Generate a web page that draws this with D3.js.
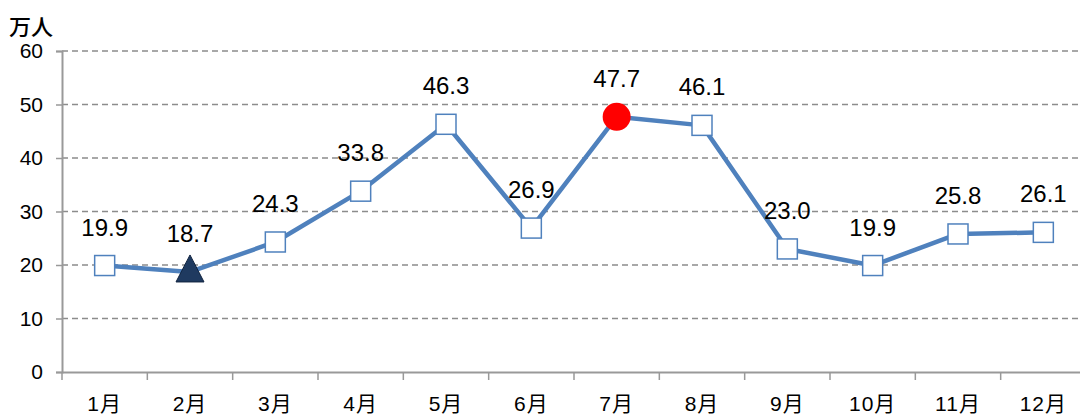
<!DOCTYPE html>
<html>
<head>
<meta charset="utf-8">
<script src="https://d3js.org/d3.v7.min.js"></script>
<style>
  body { margin: 0; background: #fff; }
  text { font-family: "Liberation Sans", "Noto Sans CJK JP", sans-serif; }
</style>
</head>
<body>
<script>
// data
const months = ["1月", "2月", "3月", "4月", "5月", "6月", "7月", "8月", "9月", "10月", "11月", "12月"];
const visitors = [19.9, 18.7, 24.3, 33.8, 46.3, 26.9, 47.7, 46.1, 23.0, 19.9, 25.8, 26.1];
const markerTypes = ["square", "triangle", "square", "square", "square", "square", "circle", "square", "square", "square", "square", "square"];
const yTicks = [0, 10, 20, 30, 40, 50, 60];

const width = 1080, height = 418;
const svg = d3.select("body").append("svg")
    .attr("width", width)
    .attr("height", height);

const x = d3.scaleBand().domain(months).range([62, 1086]);
const y = d3.scaleLinear().domain([0, 60]).range([372, 51]);

// grid lines
svg.append("g").selectAll("line")
    .data(yTicks.filter(d => d > 0))
    .join("line")
    .attr("x1", 62).attr("x2", width)
    .attr("y1", d => y(d)).attr("y2", d => y(d))
    .style("stroke", "#8c8c8c")
    .style("stroke-width", 1.3)
    .style("stroke-dasharray", "6,4");

// y axis
const yAxis = svg.append("g")
    .attr("transform", "translate(62,0)")
    .call(d3.axisLeft(y).tickValues(yTicks).tickSize(6).tickPadding(13));
yAxis.select(".domain").style("stroke", "#999").style("stroke-width", 2);
yAxis.selectAll(".tick line").style("stroke", "#999").style("stroke-width", 1.5);
yAxis.selectAll(".tick text").style("font-size", "21px").style("fill", "#000");

// x axis
const xAxis = svg.append("g")
    .attr("transform", "translate(0,372)")
    .call(d3.axisBottom(x).tickSize(0).tickPadding(24));
xAxis.select(".domain").style("stroke", "#999").style("stroke-width", 2);
xAxis.selectAll(".tick text").style("font-size", "21px").style("fill", "#000")
    .style("letter-spacing", "1px");
// category boundary ticks
svg.append("g").selectAll("line")
    .data(months)
    .join("line")
    .attr("x1", d => x(d)).attr("x2", d => x(d))
    .attr("y1", 372).attr("y2", 380)
    .style("stroke", "#999")
    .style("stroke-width", 1.5);

// unit label
svg.append("text")
    .attr("x", 9).attr("y", 35)
    .style("font-size", "22px")
    .style("font-family", "'Noto Sans CJK JP', sans-serif")
    .style("font-weight", 500)
    .text("万人");

const cx = d => x(d.m) + x.bandwidth() / 2;

const pts = months.map((m, i) => ({ m, v: visitors[i], t: markerTypes[i] }));

// line
svg.append("path")
    .datum(pts)
    .attr("d", d3.line().x(cx).y(d => y(d.v)))
    .style("fill", "none")
    .style("stroke", "#4f81bd")
    .style("stroke-width", 4.5)
    .style("stroke-linejoin", "round");

// markers
const mk = svg.append("g");
mk.selectAll("rect")
    .data(pts.filter(d => d.t === "square"))
    .join("rect")
    .attr("x", d => cx(d) - 10).attr("y", d => y(d.v) - 10)
    .attr("width", 20).attr("height", 20)
    .style("fill", "#fff")
    .style("stroke", "#4f81bd")
    .style("stroke-width", 1.5);
mk.selectAll("path.tri")
    .data(pts.filter(d => d.t === "triangle"))
    .join("path")
    .attr("class", "tri")
    .attr("transform", d => `translate(${cx(d)},${y(d.v) - 2})`)
    .attr("d", "M0,-15L14,12L-14,12Z")
    .style("fill", "#1f3a60")
    .style("stroke", "#10233f")
    .style("stroke-width", 1);
mk.selectAll("circle")
    .data(pts.filter(d => d.t === "circle"))
    .join("circle")
    .attr("cx", cx).attr("cy", d => y(d.v))
    .attr("r", 14)
    .style("fill", "#ff0000");

// value labels
svg.append("g").selectAll("text")
    .data(pts)
    .join("text")
    .attr("x", cx)
    .attr("y", d => y(d.v) - 30)
    .attr("text-anchor", "middle")
    .style("font-size", "24px")
    .text(d => d.v.toFixed(1));
</script>
</body>
</html>
